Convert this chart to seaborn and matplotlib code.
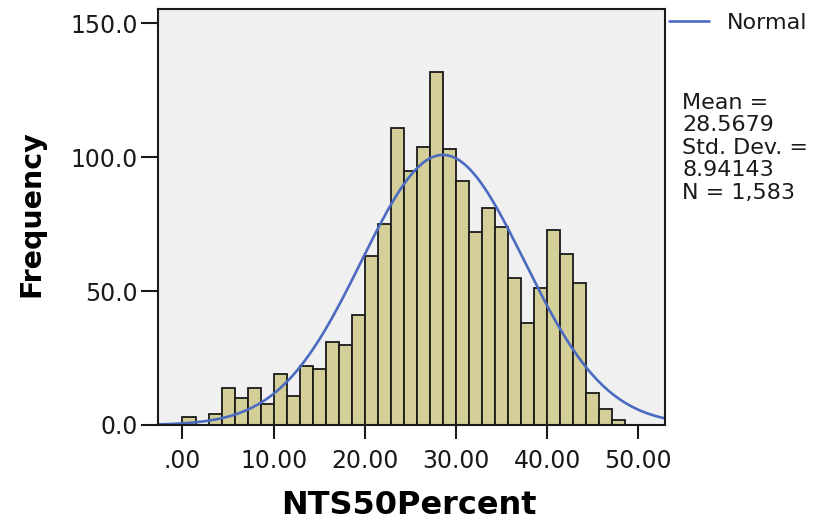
import numpy as np
import pandas as pd
import matplotlib
matplotlib.use("Agg")
import matplotlib.pyplot as plt
from matplotlib.lines import Line2D
import seaborn as sns

# Histogram of NTS50Percent: 34 bins of width 10/7 starting at 0
bin_width = 10.0 / 7.0
bin_counts = [3, 0, 4, 14, 10, 14, 8, 19, 11, 22, 21, 31, 30, 41, 63, 75, 111,
              95, 104, 132, 103, 91, 72, 81, 74, 55, 38, 51, 73, 64, 53, 12, 6, 2]
mean_val = 28.5679
std_val = 8.94143
n_total = 1583

x_ticks = [0, 10, 20, 30, 40, 50]
x_tick_labels = [".00", "10.00", "20.00", "30.00", "40.00", "50.00"]
y_ticks = [0, 50, 100, 150]
y_tick_labels = ["0.0", "50.0", "100.0", "150.0"]

edges = [i * bin_width for i in range(len(bin_counts) + 1)]
centers = [(a + b) / 2 for a, b in zip(edges[:-1], edges[1:])]
hist_df = pd.DataFrame({"NTS50Percent": centers, "count": bin_counts})

sns.set_theme(style="white")
plt.rcParams["font.family"] = ["DejaVu Sans"]

W, H = 818, 523
fig = plt.figure(figsize=(W / 100, H / 100), dpi=100)
left_px, right_px, top_px, bottom_px = 157.5, 665, 8.5, 425
ax = fig.add_axes([left_px / W, 1 - bottom_px / H,
                   (right_px - left_px) / W, (bottom_px - top_px) / H])
ax.set_facecolor("#F0F0F0")

sns.histplot(data=hist_df, x="NTS50Percent", weights="count", bins=edges,
             color="#D4CF99", alpha=1.0, edgecolor="#1a1a1a", linewidth=1.3,
             ax=ax)

# Fitted normal curve scaled to counts
xs = np.linspace(-3, 53, 400)
ys = n_total * bin_width / (std_val * np.sqrt(2 * np.pi)) * \
    np.exp(-0.5 * ((xs - mean_val) / std_val) ** 2)
curve_color = "#4A6BC0"
sns.lineplot(x=xs, y=ys, color=curve_color, linewidth=1.9, ax=ax)

ax.set_xlim(-2.74, 52.93)
ax.set_ylim(0, 155.6)
ax.set_xticks(x_ticks)
ax.set_xticklabels(x_tick_labels)
ax.set_yticks(y_ticks)
ax.set_yticklabels(y_tick_labels)
ax.tick_params(axis="x", direction="out", length=10, width=1.5, pad=7,
               labelsize=17, colors="#1a1a1a", bottom=True)
ax.tick_params(axis="y", direction="out", length=12, width=1.5, pad=2,
               labelsize=17, colors="#1a1a1a", left=True)
for s in ax.spines.values():
    s.set_visible(True)
    s.set_color("#1a1a1a")
    s.set_linewidth(1.5)

ax.set_xlabel("NTS50Percent", fontsize=23, fontweight="bold", va="top",
              color="black")
ax.set_ylabel("Frequency", fontsize=20.5, fontweight="bold", color="black")
ax.xaxis.set_label_coords(0.4956, -0.155)
ax.yaxis.set_label_coords(-0.2217, 0.5066)

# Legend and summary statistics to the right of the plot area
handle = Line2D([0], [0], color=curve_color, linewidth=1.9)
fig.legend([handle], ["Normal"], loc="center left",
           bbox_to_anchor=(669 / W, 1 - 23 / H), frameon=False,
           fontsize=16, handlelength=1.8, handletextpad=0.82,
           borderaxespad=0, borderpad=0, labelcolor="#1a1a1a")
stats_lines = ["Mean =", f"{mean_val:.4f}", "Std. Dev. =", f"{std_val:.5f}",
               f"N = {n_total:,}"]
fig.text(682 / W, 1 - 93 / H, "\n".join(stats_lines), ha="left", va="top",
         fontsize=16, linespacing=1.15, color="#1a1a1a")

fig.savefig("out.png", dpi=100)
